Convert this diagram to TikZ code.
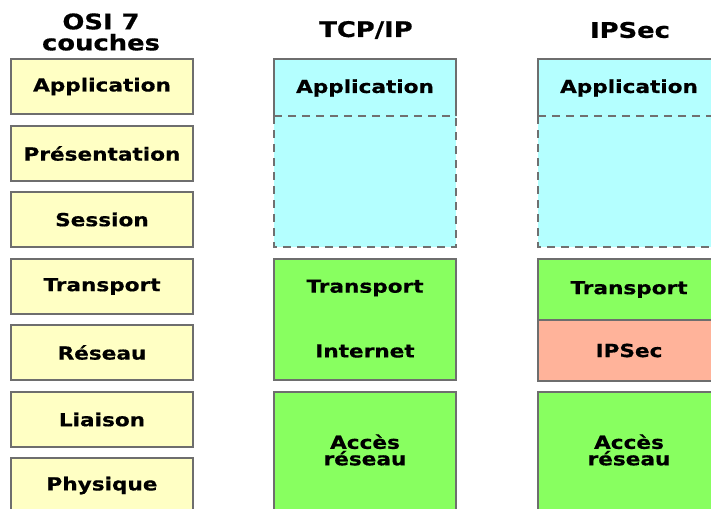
\documentclass[tikz,border=0pt]{standalone}
\usepackage{fontspec}
\newfontfamily\lblfont{DejaVu Sans}[FakeStretch=1.2, FakeBold=0.6]
\definecolor{osifill}{HTML}{FFFFC4}
\definecolor{appfill}{HTML}{B4FFFF}
\definecolor{netfill}{HTML}{88FF60}
\definecolor{secfill}{HTML}{FFB39A}
\definecolor{boxline}{HTML}{6E6E6E}
\definecolor{dashline}{HTML}{707070}
\begin{document}
\begin{tikzpicture}[x=1pt,y=-1pt,
  txt/.style={font=\lblfont\bfseries\fontsize{18}{16.5}\selectfont, align=center, inner sep=0pt},
  head/.style={txt, font=\lblfont\bfseries\fontsize{21.5}{21}\selectfont},
  layer/.style={txt, draw=boxline, line width=1.3pt, minimum width=182pt},
  osi/.style={layer, fill=osifill, minimum height=55pt},
  edge/.style={draw=boxline, line width=1.3pt},
  dashedge/.style={draw=dashline, line width=1.3pt, dash pattern=on 8pt off 6pt}]
\useasboundingbox (0,0) rectangle (711,508);
\clip (0,0) rectangle (711,508);

% column headings
\node[head] (hosi) at (101,32) {OSI 7\\couches};
\node[head] (htcp) at (366,30) {TCP/IP};
\node[head] (hsec) at (630,30) {IPSec};

% OSI reference model, seven layers
\node[osi] (app)  at (102,86.5)  {Application};
\node[osi] (pres) at (102,153.5) {Présentation};
\node[osi] (sess) at (102,219.5) {Session};
\node[osi] (trans) at (102,286.5) {Transport};
\node[osi] (res)  at (102,352.5) {Réseau};
\node[osi] (liai) at (102,419.5) {Liaison};
\node[osi] (phys) at (102,485.5) {Physique};

% TCP/IP stack
\fill[appfill] (274,59) rectangle (456,247);
\draw[edge] (274,116) -- (274,59) -- (456,59) -- (456,116);
\draw[dashedge] (274,116) -- (274,247) -- (456,247) -- (456,116);
\draw[dashedge] (274,116) -- (456,116);
\node[txt] (tapp) at (365,88) {Application};
\node[layer, fill=netfill, minimum height=121pt] (tnet) at (365,319.5) {};
\node[txt] (ttrans) at (365,288) {Transport};
\node[txt] (tinet) at (365,351) {Internet};
\node[layer, fill=netfill, minimum height=121pt] (tacc) at (365,452.5) {};
\node[txt] (tacct) at (365,450) {Accès\\réseau};

% IPSec stack
\fill[appfill] (538,59) rectangle (720,247);
\draw[edge] (538,116) -- (538,59) -- (720,59) -- (720,116);
\draw[dashedge] (538,116) -- (538,247) -- (720,247) -- (720,116);
\draw[dashedge] (538,116) -- (720,116);
\node[txt] (sapp) at (629,88) {Application};
\node[layer, fill=netfill, minimum height=61pt] (strans) at (629,289.5) {Transport};
\node[layer, fill=secfill, minimum height=61pt] (ssec) at (629,350.5) {IPSec};
\node[layer, fill=netfill, minimum height=121pt] (sacc) at (629,452.5) {};
\node[txt] (sacct) at (629,450) {Accès\\réseau};
\end{tikzpicture}
\end{document}
